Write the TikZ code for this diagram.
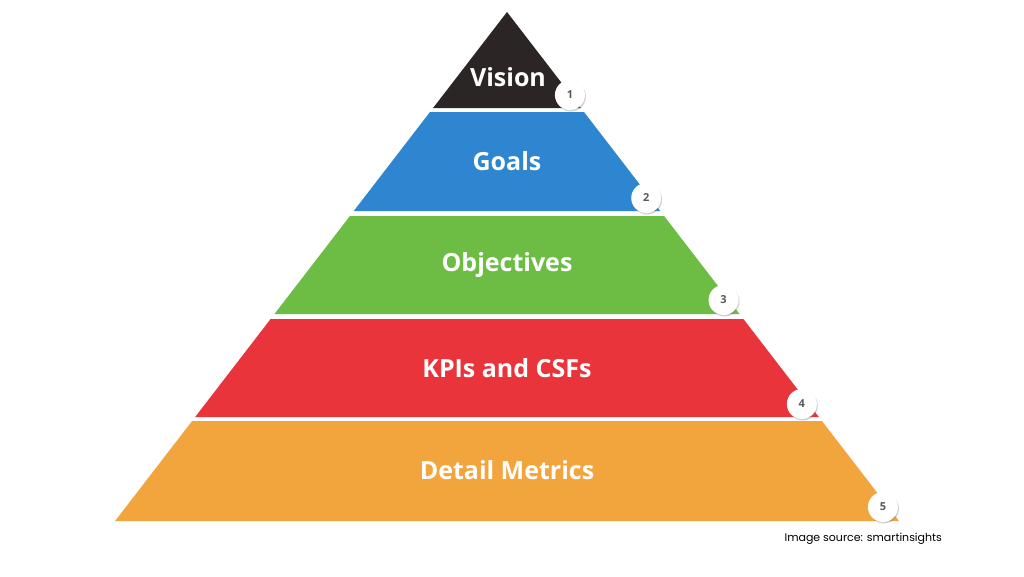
\documentclass[tikz,border=0pt]{standalone}
\usepackage{fontspec}
\setmainfont{Open Sans}
\newfontfamily\capfont{Poppins}
\usetikzlibrary{shadows}
\definecolor{cVis}{HTML}{2B2526}
\definecolor{cGoal}{HTML}{2E86D0}
\definecolor{cObj}{HTML}{6DBD45}
\definecolor{cKpi}{HTML}{E8343A}
\definecolor{cDet}{HTML}{F2A53C}
\newcommand{\lyr}[4]{% color, top, bottom, name
  \pgfmathsetmacro{\lt}{507-0.77*(#2-12)}\pgfmathsetmacro{\rt}{507+0.77*(#2-12)}
  \pgfmathsetmacro{\lb}{507-0.77*(#3-12)}\pgfmathsetmacro{\rb}{507+0.77*(#3-12)}
  \fill[#1] (\lt,#2) -- (\rt,#2) -- (\rb,#3) -- (\lb,#3) -- cycle;
  \coordinate (#4) at (\rb,#3);}
\tikzset{lbl/.style={text=white,font=\bfseries\fontsize{25}{28}\selectfont},
  num/.style={circle,fill=white,minimum size=30pt,inner sep=0pt,text=black!65,
    font=\bfseries\fontsize{11}{13}\selectfont,drop shadow={shadow xshift=1pt,shadow yshift=-1.5pt,opacity=0.35}}}
\begin{document}
\begin{tikzpicture}[x=1pt,y=-1pt]
\useasboundingbox (0,0) rectangle (1024,576);
\fill[white] (0,0) rectangle (1024,576);
\fill[cVis] (507,12) -- (507+0.77*96,108) -- (507-0.77*96,108) -- cycle;
\coordinate (c1) at (507+0.77*96,108);
\lyr{cGoal}{112}{211}{c2}
\lyr{cObj}{216}{314}{c3}
\lyr{cKpi}{319}{417}{c4}
\lyr{cDet}{421}{521}{c5}
\node[lbl] (tVis) at (508,77) {Vision};
\node[lbl] (tGoal) at (507,161) {Goals};
\node[lbl] (tObj) at (507,265) {Objectives};
\node[lbl] (tKpi) at (507,368) {KPIs and CSFs};
\node[lbl] (tDet) at (507,470) {Detail Metrics};
\node[num] (n1) at ([xshift=-11pt,yshift=13pt]c1) {1};
\node[num] (n2) at ([xshift=-14pt,yshift=13pt]c2) {2};
\node[num] (n3) at ([xshift=-16pt,yshift=14pt]c3) {3};
\node[num] (n4) at ([xshift=-17pt,yshift=13pt]c4) {4};
\node[num] (n5) at ([xshift=-16pt,yshift=14pt]c5) {5};
\node[font=\capfont\fontsize{11}{13}\selectfont,anchor=west] (src) at (781,539) {Image source: smartinsights};
\end{tikzpicture}
\end{document}
